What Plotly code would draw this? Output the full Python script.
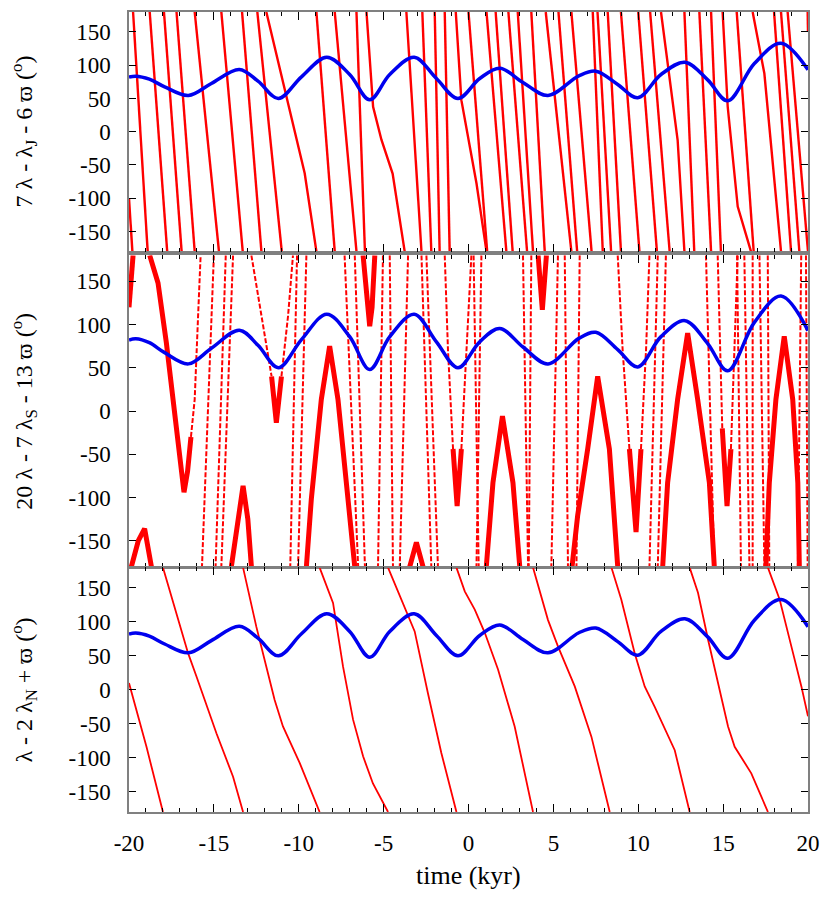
"""Resonant angles vs time, three stacked panels."""
import plotly.graph_objects as go
from plotly.subplots import make_subplots

# blue curve, identical in all three panels (time in kyr, angle in deg)
blue_t = [-20, -19.6, -18.8, -17.9, -16.5, -15.15, -13.5, -12.4, -11.2, -9.84,
          -8.35, -7.0, -5.82, -4.64, -3.2, -1.89, -0.62, 0.66, 1.84, 3.21,
          4.68, 6.5, 7.5, 8.79, 9.97, 11.34, 12.75, 14.09, 15.27, 16.84,
          18.41, 20]
blue_v = [82, 83.5, 79, 67.5, 54.5, 72.5, 93.5, 76, 50, 82.5,
          112, 86, 48, 86, 112, 80, 50, 80, 95.5, 74,
          54.5, 84, 91, 71, 51, 86, 104.5, 78, 46.5, 102.5,
          133, 93]

# panel 1: 7 lambda - lambda_J - 6 varpi, red polylines (t, angle)
top_red = [
    [(-20.0, -100), (-19.8, -180)],
    [(-19.76, 180), (-18.9, -180)],
    [(-18.78, 180), (-17.75, -180)],
    [(-17.94, 180), (-16.9, -180)],
    [(-17.2, 180), (-16.13, -180)],
    [(-16.13, 180), (-14.7, -180)],
    [(-14.56, 180), (-13.3, -180)],
    [(-13.34, 180), (-12.2, -180)],
    [(-12.44, 180), (-11.0, -180)],
    [(-11.91, 180), (-10.83, 62.5), (-9.65, -62.5), (-8.96, -180)],
    [(-8.96, 180), (-7.88, -180)],
    [(-7.88, 180), (-6.6, -180)],
    [(-6.6, 180), (-6.1, -180)],
    [(-6.01, 180), (-5.62, 37.5), (-5.13, -12), (-4.47, -63), (-3.76, -180)],
    [(-3.66, 180), (-2.77, -180)],
    [(-2.72, 180), (-2.19, -180)],
    [(-1.99, 180), (-1.7, -180)],
    [(-1.4, 180), (-1.11, -180)],
    [(-0.75, 180), (-0.42, 47.5), (0.47, -77.5), (1.06, -180)],
    [(0.0, 180), (1.1, -180)],
    [(1.06, 180), (2.23, -180)],
    [(1.6, 180), (2.6, -180)],
    [(2.35, 180), (3.45, -180)],
    [(2.9, 180), (3.8, -180)],
    [(3.7, 180), (4.49, -180)],
    [(4.55, 180), (6.06, -180)],
    [(5.3, 180), (6.4, -180)],
    [(6.06, 180), (7.25, -180)],
    [(7.32, 180), (7.91, -180)],
    [(7.6, 180), (8.4, -180)],
    [(8.2, 180), (8.98, -180)],
    [(8.98, 180), (10.07, -180)],
    [(10.0, 180), (11.1, -180)],
    [(10.7, 180), (11.85, -180)],
    [(11.34, 180), (12.32, -12.5), (12.72, -180)],
    [(12.72, 180), (13.3, -180)],
    [(13.6, 180), (14.29, -180)],
    [(14.29, 180), (14.87, -180)],
    [(14.97, 180), (15.27, 37.5), (15.86, -112.5), (16.64, -180)],
    [(15.8, 180), (16.8, -180)],
    [(16.74, 180), (17.43, 87.5), (18.41, -180)],
    [(18.0, 180), (19.0, -180)],
    [(18.41, 180), (19.49, -180)],
    [(18.8, 180), (20.0, -180)],
    [(19.98, 180), (20.0, 150)],
]

# panel 2: 20 lambda - 7 lambda_S - 13 varpi, slow turning parts (thick)
mid_red_thick = [
    [(-20.0, 120), (-19.76, 180)],
    [(-19.86, -180), (-19.45, -150), (-19.08, -136), (-18.85, -160), (-18.68, -180)],
    [(-18.78, 180), (-18.29, 148), (-17.8, 79), (-17.31, 2), (-17.01, -52),
     (-16.76, -94), (-16.55, -70), (-16.35, -30)],
    [(-13.97, -180), (-13.6, -125), (-13.28, -86.5), (-13.0, -125), (-12.79, -180)],
    [(-11.6, 40), (-11.32, -13.5), (-11.02, 40)],
    [(-9.55, -180), (-9.26, -102), (-8.67, 13.5), (-8.18, 75), (-7.69, 13.5),
     (-7.1, -102), (-6.7, -180)],
    [(-6.21, 180), (-5.95, 120), (-5.82, 98), (-5.68, 120), (-5.52, 180)],
    [(-3.46, -180), (-3.07, -152), (-2.68, -180)],
    [(-0.91, -44), (-0.67, -110), (-0.42, -44)],
    [(1.05, -180), (1.44, -83), (2.0, -6), (2.62, -83), (3.02, -180)],
    [(4.1, 180), (4.35, 117), (4.59, 180)],
    [(6.1, -180), (6.43, -121), (7.02, -44), (7.61, 40), (8.3, -44), (8.79, -180)],
    [(9.48, -44), (9.87, -140), (10.16, -44)],
    [(11.44, -180), (11.73, -83), (12.32, 13.5), (12.91, 90), (13.5, 13.5),
     (14.19, -83), (14.48, -180)],
    [(14.95, -20), (15.23, -110), (15.46, -44)],
    [(17.52, -180), (17.72, -83), (18.11, 13.5), (18.6, 86.5), (19.1, 13.5),
     (19.4, -83), (19.49, -180)],
]

# panel 2: fast parts (thin, broken)
mid_red_thin = [
    [(-16.35, -30), (-16.13, 13.5), (-15.93, 110), (-15.78, 180)],
    [(-12.79, 180), (-12.2, 110), (-11.6, 40)],
    [(-11.02, 40), (-10.63, 110), (-10.34, 180)],
    [(-1.4, 180), (-1.21, 71), (-0.91, -44)],
    [(-0.42, -44), (-0.12, 71), (0.17, 180)],
    [(8.79, 180), (9.08, 71), (9.48, -44)],
    [(10.16, -44), (10.46, 71), (10.66, 180)],
    [(14.68, 180), (14.87, 33), (14.95, -20)],
    [(15.46, -44), (15.66, 71), (15.86, 180)],
]
# further fast lines, crossing the panel: (time at +180, time at -180)
mid_thin_cross = [
    (-15.0, -15.7), (-14.3, -14.9), (-13.87, -14.56), (-9.55, -10.04),
    (-10.1, -10.5), (-7.3, -6.5), (-6.7, -6.1), (-5.04, -5.33),
    (-4.64, -4.45), (-3.56, -4.05), (-2.77, -2.19), (-2.48, -1.8),
    (0.76, 0.47), (0.3, 0.6), (3.21, 3.51), (3.7, 3.55), (5.27, 4.88),
    (5.67, 5.86), (6.55, 6.36), (11.15, 10.66), (11.63, 11.15),
    (13.99, 14.48), (15.82, 16.05), (16.25, 16.55), (16.74, 16.74),
    (17.14, 17.43), (17.63, 17.72), (19.6, 19.4), (19.88, 19.98),
]

# panel 3: lambda - 2 lambda_N + varpi
low_red = [
    [(-20, 10), (-18.97, -84), (-18.0, -180)],
    [(-18.0, 180), (-16.52, 54), (-16.03, 20), (-14.85, -64), (-13.87, -128), (-13.28, -180)],
    [(-13.28, 180), (-12.5, 93), (-11.91, 34), (-11.42, -15), (-10.93, -54), (-9.94, -108),
     (-8.77, -180)],
    [(-8.77, 180), (-7.98, 128), (-7.39, 34), (-6.8, -44), (-6.21, -98), (-5.63, -138),
     (-4.74, -180)],
    [(-4.74, 180), (-3.76, 123), (-3.17, 86), (-2.39, -5), (-1.6, -93), (-0.71, -180)],
    [(-0.71, 180), (-0.22, 145), (0.37, 118), (0.96, 84), (1.74, 30), (2.72, -54), (3.8, -180)],
    [(3.8, 180), (4.68, 103), (5.27, 64), (6.26, 5), (7.24, -69), (8.32, -180)],
    [(8.42, 180), (9.0, 133), (9.79, 54), (10.38, 5), (10.97, -25), (12.15, -89), (13.03, -180)],
    [(13.03, 180), (13.52, 143), (14.11, 74), (14.9, -15), (15.29, -54), (15.68, -84),
     (16.66, -123), (17.64, -180)],
    [(17.64, 180), (18.33, 133), (19.02, 64), (19.61, 5), (20, -39)],
]

x_ticks = [-20, -15, -10, -5, 0, 5, 10, 15, 20]
x_tick_labels = ["-20", "-15", "-10", "-5", "0", "5", "10", "15", "20"]
y_ticks = [-150, -100, -50, 0, 50, 100, 150]
y_tick_labels = ["-150", "-100", "-50", "0", "50", "100", "150"]

y_titles = [
    "7 λ - λ<sub>J</sub> - 6 ϖ (<sup>o</sup>)",
    "20 λ - 7 λ<sub>S</sub> - 13 ϖ (<sup>o</sup>)",
    "λ - 2 λ<sub>N</sub> + ϖ (<sup>o</sup>)",
]
x_title = "time (kyr)"

FONT = "Liberation Serif"
RED = "#ff0000"
BLUE = "#0000ee"


def flatten(segments):
    xs, ys = [], []
    for seg in segments:
        xs += [p[0] for p in seg] + [None]
        ys += [p[1] for p in seg] + [None]
    return xs, ys


fig = make_subplots(rows=3, cols=1, shared_xaxes=True, vertical_spacing=0)

x, y = flatten(top_red)
fig.add_trace(go.Scatter(x=x, y=y, mode="lines", line=dict(color=RED, width=2.4)), row=1, col=1)

x, y = flatten(mid_red_thin + [[(a, 180), (b, -180)] for a, b in mid_thin_cross])
fig.add_trace(go.Scatter(x=x, y=y, mode="lines",
                         line=dict(color=RED, width=2, dash="5px,2px")), row=2, col=1)
x, y = flatten(mid_red_thick)
fig.add_trace(go.Scatter(x=x, y=y, mode="lines", line=dict(color=RED, width=5)), row=2, col=1)

x, y = flatten(low_red)
fig.add_trace(go.Scatter(x=x, y=y, mode="lines", line=dict(color=RED, width=1.8)), row=3, col=1)

for r in (1, 2, 3):
    fig.add_trace(go.Scatter(x=blue_t, y=blue_v, mode="lines",
                             line=dict(color=BLUE, width=3.5, shape="spline", smoothing=1.0)),
                  row=r, col=1)

tick_font = dict(family=FONT, size=23, color="black")
axis_common = dict(showline=True, linecolor="#808080", linewidth=1.5, mirror="allticks",
                   ticks="inside", tickcolor="black", tickwidth=1, showgrid=False,
                   zeroline=False, tickfont=tick_font)
fig.update_xaxes(range=[-20, 20], tickvals=x_ticks, ticktext=x_tick_labels, ticklen=8,
                 ticklabelstandoff=10,
                 minor=dict(dtick=1, ticks="inside", ticklen=4, tickcolor="black",
                            showgrid=False),
                 **axis_common)
fig.update_xaxes(showticklabels=False, row=1, col=1)
fig.update_xaxes(showticklabels=False, row=2, col=1)
fig.update_yaxes(range=[-180, 180], tickvals=y_ticks, ticktext=y_tick_labels, ticklen=7,
                 ticklabelstandoff=12, **axis_common)

domains = [[0.7007, 1.0], [0.3067, 0.6958], [0.0, 0.3055]]
fig.update_layout(
    yaxis=dict(domain=domains[0]),
    yaxis2=dict(domain=domains[1]),
    yaxis3=dict(domain=domains[2]),
)

for title, dom in zip(y_titles, domains):
    fig.add_annotation(text=title, xref="paper", yref="paper", x=-0.155, y=(dom[0] + dom[1]) / 2,
                       textangle=-90, showarrow=False, xanchor="center", yanchor="middle",
                       font=dict(family=FONT, size=24, color="black"))
fig.add_annotation(text=x_title, xref="paper", yref="paper", x=0.5, y=-0.079,
                   showarrow=False, xanchor="center", yanchor="middle",
                   font=dict(family=FONT, size=26, color="black"))

# the page body adds an 8px margin, so the figure is 16px smaller than the window
fig.update_layout(
    width=814, height=882,
    margin=dict(l=121, r=14, t=2, b=78),
    plot_bgcolor="white", paper_bgcolor="white",
    showlegend=False,
    font=dict(family=FONT, size=23, color="black"),
)

fig.write_html("out.html")
